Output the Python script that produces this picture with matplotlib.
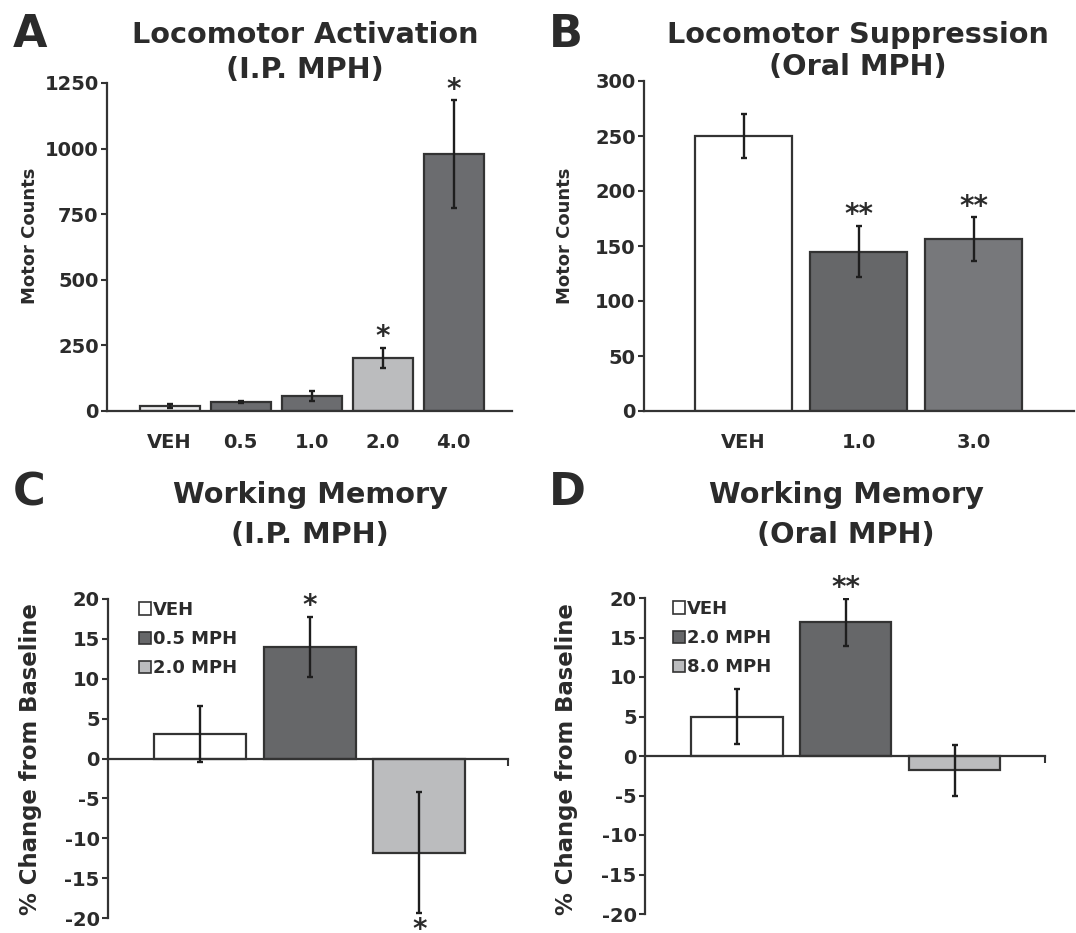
import matplotlib
matplotlib.use("Agg")
import matplotlib.pyplot as plt
from matplotlib.patches import Patch
from matplotlib.ticker import FixedLocator

# ---------------- data ----------------
a_labels = ["VEH", "0.5", "1.0", "2.0", "4.0"]
a_values = [18, 35, 57, 203, 979]
a_errors = [8, 5, 18, 38, 205]
a_stars = ["", "", "", "*", "*"]

b_labels = ["VEH", "1.0", "3.0"]
b_values = [250, 145, 156]
b_errors = [20, 23, 20]
b_stars = ["", "**", "**"]

c_labels = ["VEH", "0.5 MPH", "2.0 MPH"]
c_values = [3.1, 14.0, -11.8]
c_errors = [3.5, 3.8, 7.6]
c_stars = ["", "*", "*"]

d_labels = ["VEH", "2.0 MPH", "8.0 MPH"]
d_values = [5.0, 16.9, -1.8]
d_errors = [3.5, 3.0, 3.2]
d_stars = ["", "**", ""]

WHITE = "#ffffff"
NEARWHITE = "#ececed"
DARK = "#6b6c6f"
LIGHT = "#bbbcbe"
MID = "#77787b"
DARK2 = "#666769"
TXT = "#2b2b2b"
EDGE = "#333333"

a_colors = [NEARWHITE, DARK, DARK, LIGHT, DARK]
b_colors = [WHITE, DARK2, MID]
c_colors = [WHITE, DARK2, LIGHT]
d_colors = [WHITE, DARK2, LIGHT]

FONT = "DejaVu Sans"
plt.rcParams["font.family"] = FONT
plt.rcParams["font.weight"] = "bold"
plt.rcParams["axes.unicode_minus"] = False

W, H = 1076, 933
fig = plt.figure(figsize=(W / 100, H / 100), dpi=100)


def add_axes_px(left, right, top, bottom):
    return fig.add_axes([left / W, 1 - bottom / H, (right - left) / W, (bottom - top) / H])


def style_axes(ax):
    for s in ["top", "right"]:
        ax.spines[s].set_visible(False)
    for s in ["left", "bottom"]:
        ax.spines[s].set_linewidth(1.6)
        ax.spines[s].set_color(EDGE)
    ax.tick_params(axis="y", direction="out", length=4, width=1.5, color=EDGE,
                   labelsize=14, labelcolor=TXT, pad=2)
    for lab in ax.get_yticklabels():
        lab.set_fontweight("bold")


def draw_bars(ax, values, errors, colors, stars, width, star_up=2, star_down=19):
    x = list(range(len(values)))
    ax.bar(x, values, width=width, color=colors, edgecolor=EDGE, linewidth=1.6, zorder=2)
    ax.errorbar(x, values, yerr=errors, fmt="none", ecolor="#1e1e1e", elinewidth=1.7,
                capsize=2.2, capthick=1.7, zorder=3)
    for xi, v, e, s in zip(x, values, errors, stars):
        if not s:
            continue
        if v >= 0:
            ax.annotate(s, (xi, v + e), xytext=(0, star_up), textcoords="offset points",
                        ha="center", va="baseline", fontsize=20, fontweight="bold",
                        color=TXT, annotation_clip=False)
        else:
            ax.annotate(s, (xi, v - e), xytext=(0, -star_down), textcoords="offset points",
                        ha="center", va="baseline", fontsize=20, fontweight="bold",
                        color=TXT, annotation_clip=False)
    return x


def title2(xc, y1, y2, l1, l2):
    for y, s in ((y1, l1), (y2, l2)):
        fig.text(xc / W, 1 - y / H, s, ha="center", va="baseline", fontsize=20.7,
                 fontweight="bold", color=TXT)


def panel_letter(x, y, s):
    fig.text(x / W, 1 - y / H, s, ha="left", va="baseline", fontsize=32,
             fontweight="bold", color=TXT)


def ylab(x, y, s, size):
    fig.text(x / W, 1 - y / H, s, rotation=90, ha="center", va="center", fontsize=size,
             fontweight="bold", color=TXT)


# ---------------- Panel A ----------------
axA = add_axes_px(107, 512, 83, 411)
xA = draw_bars(axA, a_values, a_errors, a_colors, a_stars, 0.845)
axA.set_ylim(0, 1250)
axA.set_xlim(-0.88, 4.82)
axA.set_yticks([0, 250, 500, 750, 1000, 1250])
axA.set_xticks(xA)
axA.set_xticklabels(a_labels)
style_axes(axA)
axA.tick_params(axis="x", length=0, labelsize=14, labelcolor=TXT, pad=16)

# ---------------- Panel B ----------------
axB = add_axes_px(644, 1074, 81, 411)
xB = draw_bars(axB, b_values, b_errors, b_colors, b_stars, 0.845)
axB.set_ylim(0, 300)
axB.set_xlim(-0.865, 2.87)
axB.set_yticks([0, 50, 100, 150, 200, 250, 300])
axB.set_xticks(xB)
axB.set_xticklabels(b_labels)
style_axes(axB)
axB.tick_params(axis="x", length=0, labelsize=14, labelcolor=TXT, pad=16)


# ---------------- Panels C & D ----------------
def wm_panel(ax, values, errors, colors, stars, labels, xlim, legend_xy):
    draw_bars(ax, values, errors, colors, stars, 0.84, star_up=2, star_down=18)
    ax.set_ylim(-20, 20)
    ax.set_xlim(*xlim)
    ax.set_yticks([20, 15, 10, 5, 0, -5, -10, -15, -20])
    ax.spines["bottom"].set_position(("data", 0))
    ax.set_xticks([])
    ax.xaxis.set_minor_locator(FixedLocator([xlim[1]]))
    ax.tick_params(axis="x", which="minor", direction="out", length=5, width=1.5,
                   color=EDGE, labelbottom=False)
    style_axes(ax)
    handles = [Patch(facecolor=c, edgecolor=EDGE, linewidth=1.2) for c in colors]
    leg = ax.legend(handles, labels, loc="upper left",
                    bbox_to_anchor=(legend_xy[0] / W, 1 - legend_xy[1] / H),
                    bbox_transform=fig.transFigure, frameon=False, borderpad=0,
                    borderaxespad=0, handlelength=0.68, handleheight=0.68,
                    handletextpad=0.08, labelspacing=0.62,
                    prop={"family": FONT, "weight": "bold", "size": 13})
    for t in leg.get_texts():
        t.set_color(TXT)


axC = add_axes_px(108, 508, 599, 918)
wm_panel(axC, c_values, c_errors, c_colors, c_stars, c_labels, (-0.84, 2.81), (139, 601))

axD = add_axes_px(645, 1045, 598, 914)
wm_panel(axD, d_values, d_errors, d_colors, d_stars, d_labels, (-0.844, 2.83), (673, 600))

# ---------------- titles, letters, labels ----------------
title2(305, 43, 78, "Locomotor Activation", "(I.P. MPH)")
title2(858, 43, 75, "Locomotor Suppression", "(Oral MPH)")
title2(310, 503, 543, "Working Memory", "(I.P. MPH)")
title2(846, 503, 543, "Working Memory", "(Oral MPH)")

panel_letter(13, 47, "A")
panel_letter(549, 47, "B")
panel_letter(13, 505, "C")
panel_letter(549, 505, "D")

ylab(30, 236, "Motor Counts", 13)
ylab(565, 236, "Motor Counts", 13)
ylab(31, 759, "% Change from Baseline", 16.4)
ylab(567, 759, "% Change from Baseline", 16.4)

fig.savefig("out.png", dpi=100, facecolor="white")
